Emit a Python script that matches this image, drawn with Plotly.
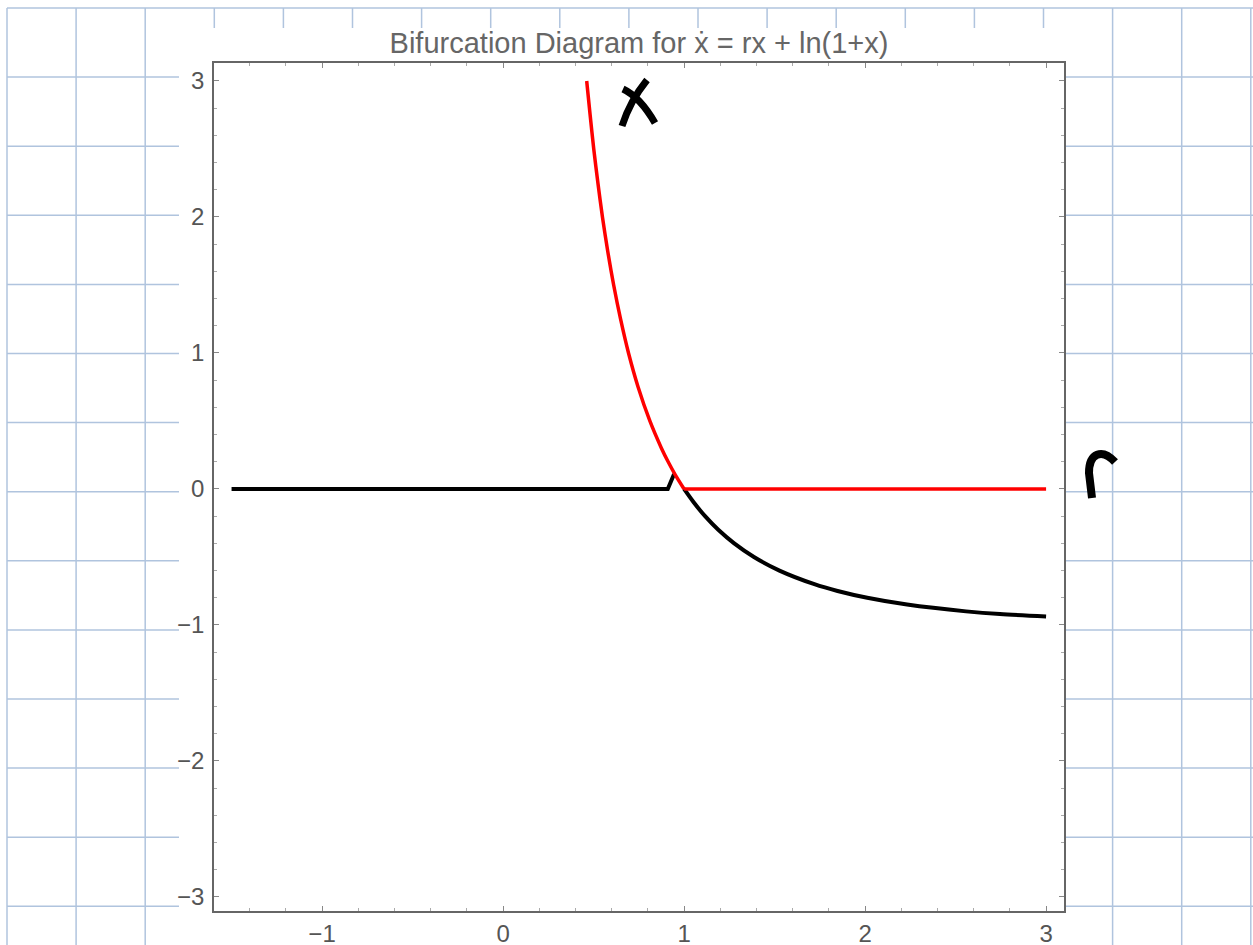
import plotly.graph_objects as go

# ---- data ----
black_flat_r = [-1.5, 0.91, 0.945]
black_flat_x = [0.0, 0.0, 0.11]

black_curve_r = [1.0, 1.054, 1.116, 1.189, 1.277, 1.386, 1.527, 1.720, 1.848, 2.012, 2.232, 2.558, 2.745, 3.0]
black_curve_x = [0.0, -0.1, -0.2, -0.3, -0.4, -0.5, -0.6, -0.7, -0.75, -0.8, -0.85, -0.9, -0.92, -0.937]

red_curve_r = [0.462, 0.481, 0.501, 0.524, 0.549, 0.578, 0.611, 0.649, 0.693, 0.746, 0.811, 0.875, 0.912, 0.949, 1.0]
red_curve_x = [3.0, 2.75, 2.5, 2.25, 2.0, 1.75, 1.5, 1.25, 1.0, 0.75, 0.5, 0.3, 0.2, 0.11, 0.0]

red_flat_r = [1.0, 3.0]
red_flat_x = [0.0, 0.0]

x_ticks = [-1, 0, 1, 2, 3]
y_ticks = [-3, -2, -1, 0, 1, 2, 3]
title_text = "Bifurcation Diagram for ẋ = rx + ln(1+x)"

# ---- layout geometry (reference pixels) ----
W, H = 1253, 945
L, R, T, B = 214, 1064, 62, 910
HF = 959            # rendered figure height (viewport compensation)
S = HF / H


def px(x, y):
    return (x - L) / (R - L), (B - y) / (B - T)


fig = go.Figure()
fig.add_trace(go.Scatter(x=black_flat_r, y=black_flat_x, mode="lines",
                         line=dict(color="black", width=4), hoverinfo="skip"))
fig.add_trace(go.Scatter(x=black_curve_r, y=black_curve_x, mode="lines",
                         line=dict(color="black", width=4, shape="spline", smoothing=0.8), hoverinfo="skip"))
fig.add_trace(go.Scatter(x=red_curve_r, y=red_curve_x, mode="lines",
                         line=dict(color="#ff0000", width=3.5, shape="spline", smoothing=0.8), hoverinfo="skip"))
fig.add_trace(go.Scatter(x=red_flat_r, y=red_flat_x, mode="lines",
                         line=dict(color="#ff0000", width=3.5), hoverinfo="skip"))

shapes = []
grid_col = "rgb(176,196,222)"
step = 69.1
for k in range(19):
    gx = 7 + step * k
    if gx > W:
        continue
    x0, y0 = px(gx, 7)
    x1, y1 = px(gx, H)
    shapes.append(dict(type="line", xref="paper", yref="paper", x0=x0, x1=x1, y0=y0, y1=y1,
                       line=dict(color=grid_col, width=1.5), layer="below"))
for k in range(14):
    gy = 7 + step * k
    x0, y0 = px(7, gy)
    x1, y1 = px(W, gy)
    shapes.append(dict(type="line", xref="paper", yref="paper", x0=x0, x1=x1, y0=y0, y1=y1,
                       line=dict(color=grid_col, width=1.5), layer="below"))
# white pasted image region
x0, y0 = px(179, 27)
x1, y1 = px(1064, H)
shapes.append(dict(type="rect", xref="paper", yref="paper", x0=x0, x1=x1, y0=y1, y1=y0,
                   fillcolor="white", line=dict(width=0), layer="below"))


def path(points, cmd):
    pts = [px(a, b) for a, b in points]
    it = iter(pts)
    out = []
    for c in cmd:
        if c in "MLQC":
            out.append(c)
        else:
            p = next(it)
            out.append(f"{p[0]:.5f},{p[1]:.5f}")
    return " ".join(out)


hand = dict(color="black", width=7)
# handwritten "x"
shapes.append(dict(type="path", xref="paper", yref="paper", layer="above",
                   path=path([(623, 88), (640, 96), (655, 122)], "MpQpp"), line=hand))
shapes.append(dict(type="path", xref="paper", yref="paper", layer="above",
                   path=path([(647, 79), (630, 100), (622, 125)], "MpQpp"), line=hand))
# handwritten "r"
shapes.append(dict(type="path", xref="paper", yref="paper", layer="above",
                   path=path([(1092, 497), (1089, 472), (1089, 452), (1102, 447), (1115, 461)],
                             "MpLpCppp"), line=dict(color="black", width=8)))

fig.update_layout(
    width=W, height=HF, autosize=False,
    margin=dict(l=L, r=W - R, t=T * S, b=HF - B * S, pad=0),
    paper_bgcolor="white", plot_bgcolor="white",
    showlegend=False,
    shapes=shapes,
    title=dict(text=title_text, x=639 / W, xanchor="center", xref="container",
               y=1 - 42 / H, yanchor="middle", yref="container",
               font=dict(family="Liberation Sans, Arial", size=29, color="#666666")),
    font=dict(family="Liberation Sans, Arial", size=24, color="#555555"),
)
axis_common = dict(showgrid=False, zeroline=False, showline=True, linecolor="#666666", linewidth=1.5,
                   mirror="ticks", ticks="inside", ticklen=5, tickcolor="#888888", tickwidth=1,
                   minor=dict(ticks="inside", ticklen=3, dtick=0.2, tickcolor="#aaaaaa", showgrid=False))
fig.update_xaxes(range=[-1.597, 3.099], tickvals=x_ticks, **axis_common)
fig.update_yaxes(range=[-3.103, 3.132], tickvals=y_ticks, ticklabelstandoff=3, **axis_common)

post = ("document.body.style.margin='0';"
        "var d=document.getElementById('{plot_id}');"
        "d.style.position='fixed';d.style.top='0';d.style.left='0';"
        "document.documentElement.style.overflow='hidden';")
fig.write_html("out.html", config={"displayModeBar": False, "responsive": False}, post_script=post)
